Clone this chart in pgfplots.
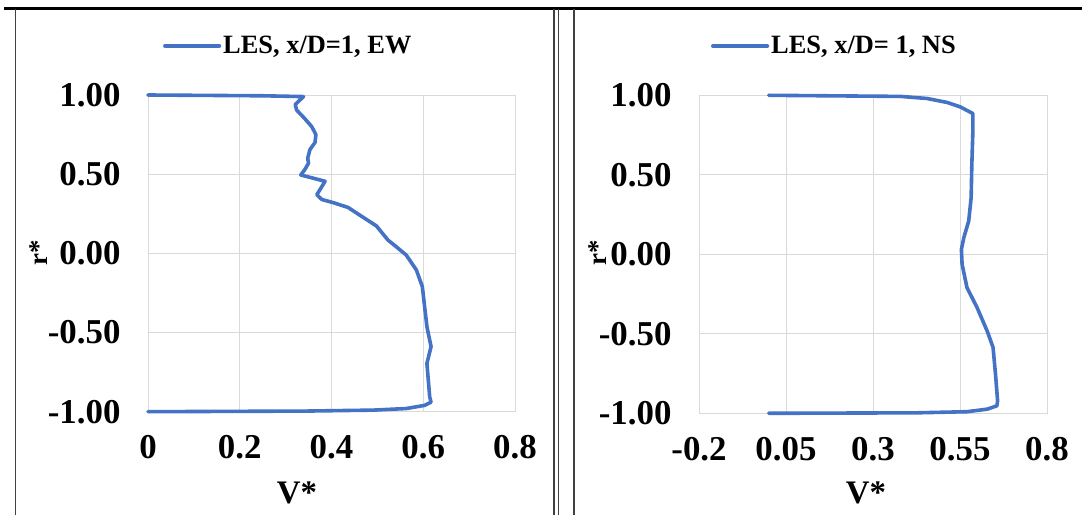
\documentclass[border=0pt]{standalone}
\usepackage{fontspec}
\setmainfont{Liberation Serif}
\usepackage{pgfplots}
\pgfplotsset{compat=1.18}
\definecolor{exblue}{HTML}{4472C4}
\definecolor{gridgray}{HTML}{D9D9D9}
\pgfplotsset{
  panel/.style={
    scale only axis,
    anchor=south west,
    ymin=-1, ymax=1,
    ytick={-1,-0.5,0,0.5,1},
    yticklabels={-1.00,-0.50,0.00,0.50,1.00},
    grid=major,
    major grid style={draw=gridgray, line width=0.9bp},
    axis line style={draw=gridgray, line width=0.9bp},
    major tick length=0pt,
    tick label style={font=\fontsize{35}{35}\selectfont\bfseries},
    yticklabel style={xshift=-24bp},
    xticklabel style={yshift=-20bp},
    clip=false,
    legend cell align=left,
    legend image code/.code={\draw[#1,line width=4.2bp] (0bp,0bp) -- (54bp,0bp);},
    legend style={draw=none, fill=none, inner sep=0pt, outer sep=0pt,
      nodes={inner sep=2bp}, anchor=west,
      font=\fontsize{26.5}{26.5}\selectfont\bfseries},
    xlabel={V*},
    ylabel={r*},
    xlabel style={font=\fontsize{33}{33}\selectfont\bfseries, anchor=center},
    ylabel style={font=\fontsize{27}{27}\selectfont\bfseries, anchor=center},
  },
  curve/.style={color=exblue, line width=3.6bp, line join=round, line cap=round},
}
\begin{document}
\begin{tikzpicture}
\path[use as bounding box] (0,0) rectangle (1082bp,515bp);
% frame lines
\draw[line width=2.6bp, black] (4bp,506.5bp) -- (1082bp,506.5bp);
\draw[line width=1.4bp, black!75] (15.5bp,506bp) -- (15.5bp,0bp);
\draw[line width=1.3bp, black!75] (554bp,506bp) -- (554bp,0bp);
\draw[line width=1.3bp, black!75] (558.5bp,506bp) -- (558.5bp,0bp);
\draw[line width=1.3bp, black!75] (574bp,506bp) -- (574bp,0bp);

\begin{axis}[panel,
  at={(148bp,103.3bp)}, width=367bp, height=316.7bp,
  xmin=0, xmax=0.8,
  xtick={0,0.2,0.4,0.6,0.8},
  xticklabels={0,0.2,0.4,0.6,0.8},
  legend style={at={(axis description cs:0.041,1.155)}},
  xlabel style={at={(axis description cs:0.406,-0.257)}},
  ylabel style={at={(axis description cs:-0.297,0.501)}},
]
\addplot[curve] coordinates {
(0,1.0) (0.25,0.995) (0.339,0.99)
(0.321,0.94) (0.324,0.905) (0.342,0.85) (0.357,0.80) (0.366,0.75)
(0.364,0.70) (0.353,0.655) (0.348,0.60) (0.350,0.57) (0.342,0.53)
(0.333,0.495) (0.386,0.455) (0.368,0.37) (0.379,0.34) (0.404,0.32)
(0.436,0.29) (0.465,0.235) (0.498,0.173) (0.523,0.084) (0.541,0.042)
(0.563,-0.011) (0.585,-0.105) (0.598,-0.21) (0.603,-0.337) (0.608,-0.463)
(0.617,-0.589) (0.608,-0.695) (0.611,-0.8) (0.614,-0.905) (0.617,-0.94)
(0.603,-0.96) (0.563,-0.98) (0.491,-0.99) (0.346,-0.996) (0,-1.0)
};
\addlegendentry{LES, x/D=1, EW}
\end{axis}

\begin{axis}[panel,
  at={(699bp,101.7bp)}, width=348bp, height=318bp,
  xmin=-0.2, xmax=0.8,
  xtick={-0.2,0.05,0.3,0.55,0.8},
  xticklabels={-0.2,0.05,0.3,0.55,0.8},
  legend style={at={(axis description cs:0.0345,1.155)}},
  xlabel style={at={(axis description cs:0.48,-0.2506)}},
  ylabel style={at={(axis description cs:-0.29,0.504)}},
]
\addplot[curve] coordinates {
(0.0,1.0) (0.379,0.993) (0.455,0.98) (0.513,0.955) (0.551,0.927)
(0.587,0.885) (0.587,0.775) (0.584,0.565) (0.582,0.356) (0.575,0.209)
(0.561,0.105) (0.554,0.031) (0.556,-0.063) (0.570,-0.209) (0.599,-0.335)
(0.628,-0.482) (0.645,-0.586) (0.652,-0.754) (0.658,-0.921) (0.656,-0.953)
(0.628,-0.974) (0.570,-0.99) (0.426,-0.997) (0.0,-1.0)
};
\addlegendentry{LES, x/D= 1, NS}
\end{axis}
\end{tikzpicture}
\end{document}
